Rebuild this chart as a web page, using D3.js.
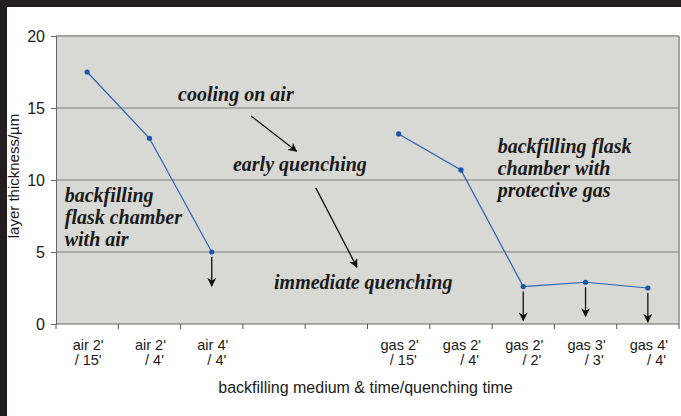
<!DOCTYPE html>
<html>
<head>
<meta charset="utf-8">
<script src="https://cdn.jsdelivr.net/npm/d3@7"></script>
<style>
  html, body { margin: 0; padding: 0; background: #fff; }
  svg { display: block; }
  .sans { font-family: Arial, "Liberation Sans", sans-serif; fill: #1a1a1a; }
  .note { font-family: "Times New Roman", "Liberation Serif", serif; font-style: italic; font-weight: bold; font-size: 20px; fill: #1a1a1a; }
</style>
</head>
<body>
<svg id="chart" width="681" height="416"></svg>
<script>
(function() {

// categories on the x axis, two text lines each (two empty slots between the groups)
const labelTop    = ["air 2'", "air 2'", "air 4'", "", "", "gas 2'", "gas 2'", "gas 2'", "gas 3'", "gas 4'"];
const labelBottom = ["/ 15'", "/ 4'", "/ 4'", "", "", "/ 15'", "/ 4'", "/ 2'", "/ 3'", "/ 4'"];

// layer thickness in µm, null where there is no measurement
const thickness = [17.5, 12.9, 5.0, null, null, 13.2, 10.7, 2.6, 2.9, 2.5];

// values that are only upper limits (drawn with a down arrow)
const upperLimit = [false, false, true, false, false, false, false, true, true, true];

const yTicks = [0, 5, 10, 15, 20];

const svg = d3.select("#chart")
    , W = 681, H = 416
    , margin = { left: 56, right: 2, top: 36, bottom: 92 }
    , plotW = W - margin.left - margin.right
    , plotH = H - margin.top - margin.bottom;

const x = d3.scaleBand()
    .domain(d3.range(labelTop.length))
    .range([margin.left, margin.left + plotW])
    .padding(0);

// continuous slot coordinate, used for the annotations
const xs = d3.scaleLinear()
    .domain([0, labelTop.length])
    .range([margin.left, margin.left + plotW]);

const y = d3.scaleLinear()
    .domain([0, 20])
    .range([margin.top + plotH, margin.top]);

const cx = (i) => x(i) + x.bandwidth() / 2;

// arrow head
svg.append("defs").append("marker")
    .attr("id", "arrow")
    .attr("viewBox", "0 0 10 10")
    .attr("refX", 9).attr("refY", 5)
    .attr("markerWidth", 9).attr("markerHeight", 9)
    .attr("markerUnits", "userSpaceOnUse")
    .attr("orient", "auto")
    .append("path")
    .attr("d", "M0,0 L10,5 L0,10 L3,5 Z")
    .attr("fill", "#111");

// black frame on top and left
svg.append("rect").attr("x", 0).attr("y", 0).attr("width", W).attr("height", 7).attr("fill", "#231f20");
svg.append("rect").attr("x", 0).attr("y", 0).attr("width", 7).attr("height", H).attr("fill", "#231f20");

// plot area
svg.append("rect")
    .attr("x", margin.left).attr("y", margin.top)
    .attr("width", plotW).attr("height", plotH)
    .attr("fill", "#d8d8d4");

// grid lines
svg.append("g")
    .selectAll("line")
    .data(yTicks.filter((d) => d > 0 && d < 20))
    .enter().append("line")
    .attr("x1", margin.left).attr("x2", margin.left + plotW)
    .attr("y1", (d) => y(d)).attr("y2", (d) => y(d))
    .attr("stroke", (d) => d === 5 ? "#9a9a98" : "#7a7a78")
    .attr("stroke-width", (d) => d === 5 ? 1.6 : 1.2);

// top and right border
svg.append("line")
    .attr("x1", margin.left).attr("x2", margin.left + plotW)
    .attr("y1", y(20)).attr("y2", y(20))
    .attr("stroke", "#a4a4a2").attr("stroke-width", 2);
svg.append("line")
    .attr("x1", margin.left + plotW).attr("x2", margin.left + plotW)
    .attr("y1", margin.top).attr("y2", margin.top + plotH)
    .attr("stroke", "#a4a4a2").attr("stroke-width", 2);

// y axis
const yAxis = svg.append("g")
    .attr("transform", "translate(" + margin.left + ",0)")
    .call(d3.axisLeft(y).tickValues(yTicks).tickSize(5).tickPadding(6));
yAxis.select(".domain").attr("stroke", "#666");
yAxis.selectAll(".tick line").attr("stroke", "#666");
yAxis.selectAll(".tick text")
    .attr("class", "sans")
    .attr("font-size", 16)
    .attr("fill", "#1a1a1a");

// x axis: ticks on the slot boundaries
const xAxis = svg.append("g")
    .attr("transform", "translate(0," + y(0) + ")");
xAxis.append("line")
    .attr("x1", margin.left).attr("x2", margin.left + plotW)
    .attr("stroke", "#666");
xAxis.selectAll("line.tk")
    .data(d3.range(labelTop.length + 1))
    .enter().append("line")
    .attr("class", "tk")
    .attr("x1", (d) => xs(d)).attr("x2", (d) => xs(d))
    .attr("y1", 0).attr("y2", 5)
    .attr("stroke", "#555");

const labels = xAxis.selectAll("g.lbl")
    .data(d3.range(labelTop.length).filter((i) => labelTop[i] !== ""))
    .enter().append("g")
    .attr("class", "lbl");

labels.each(function(i) {
    const g = d3.select(this);
    const t1 = g.append("text")
        .attr("class", "sans")
        .attr("font-size", 14.5)
        .attr("x", cx(i) + 1)
        .attr("y", 26)
        .attr("text-anchor", "middle")
        .text(labelTop[i]);
    const half = t1.node().getComputedTextLength() / 2;
    g.append("text")
        .attr("class", "sans")
        .attr("font-size", 14.5)
        .attr("x", cx(i) + 1 + half - 2)
        .attr("y", 41)
        .attr("text-anchor", "end")
        .text(labelBottom[i]);
});

// axis titles
svg.append("text")
    .attr("class", "sans")
    .attr("font-size", 16)
    .attr("x", xs(5) - 2)
    .attr("y", y(0) + 69)
    .attr("text-anchor", "middle")
    .text("backfilling medium & time/quenching time");

svg.append("text")
    .attr("class", "sans")
    .attr("font-size", 15)
    .attr("transform", "translate(19," + (y(10) - 4) + ") rotate(-90)")
    .attr("text-anchor", "middle")
    .text("layer thickness/µm");

// data line, broken where there is no value
const line = d3.line()
    .defined((d) => d.v !== null)
    .x((d) => cx(d.i))
    .y((d) => y(d.v));

const pts = thickness.map((v, i) => ({ i: i, v: v }));

svg.append("path")
    .datum(pts)
    .attr("d", line)
    .attr("fill", "none")
    .attr("stroke", "#2563b8")
    .attr("stroke-width", 1.2);

svg.append("g")
    .selectAll("circle")
    .data(pts.filter((d) => d.v !== null))
    .enter().append("circle")
    .attr("cx", (d) => cx(d.i))
    .attr("cy", (d) => y(d.v))
    .attr("r", 2.6)
    .attr("fill", "#1a56a8");

// down arrows on the upper limit values
svg.append("g")
    .selectAll("line")
    .data(pts.filter((d) => upperLimit[d.i]))
    .enter().append("line")
    .attr("x1", (d) => cx(d.i)).attr("x2", (d) => cx(d.i))
    .attr("y1", (d) => y(d.v) + 5)
    .attr("y2", (d) => y(d.v) + 34)
    .attr("stroke", "#111")
    .attr("stroke-width", 1.3)
    .attr("marker-end", "url(#arrow)");

// annotations (slot coordinate, value)
function note(sx, v, lines) {
    const t = svg.append("text")
        .attr("class", "note")
        .attr("x", xs(sx))
        .attr("y", y(v));
    lines.forEach((l, k) => {
        t.append("tspan")
            .attr("x", xs(sx))
            .attr("dy", k === 0 ? 0 : 22)
            .text(l);
    });
}

note(1.96, 15.5, ["cooling on air"]);
note(2.84, 10.65, ["early quenching"]);
note(3.50, 2.45, ["immediate quenching"]);
note(0.14, 8.45, ["backfilling", "flask chamber", "with air"]);
note(7.09, 11.88, ["backfilling flask", "chamber with", "protective gas"]);

function arrow(sx1, v1, sx2, v2) {
    svg.append("line")
        .attr("x1", xs(sx1)).attr("y1", y(v1))
        .attr("x2", xs(sx2)).attr("y2", y(v2))
        .attr("stroke", "#111")
        .attr("stroke-width", 1.3)
        .attr("marker-end", "url(#arrow)");
}

arrow(3.13, 14.45, 3.86, 12.0);
arrow(4.17, 9.45, 4.83, 3.95);

})();
</script>
</body>
</html>
